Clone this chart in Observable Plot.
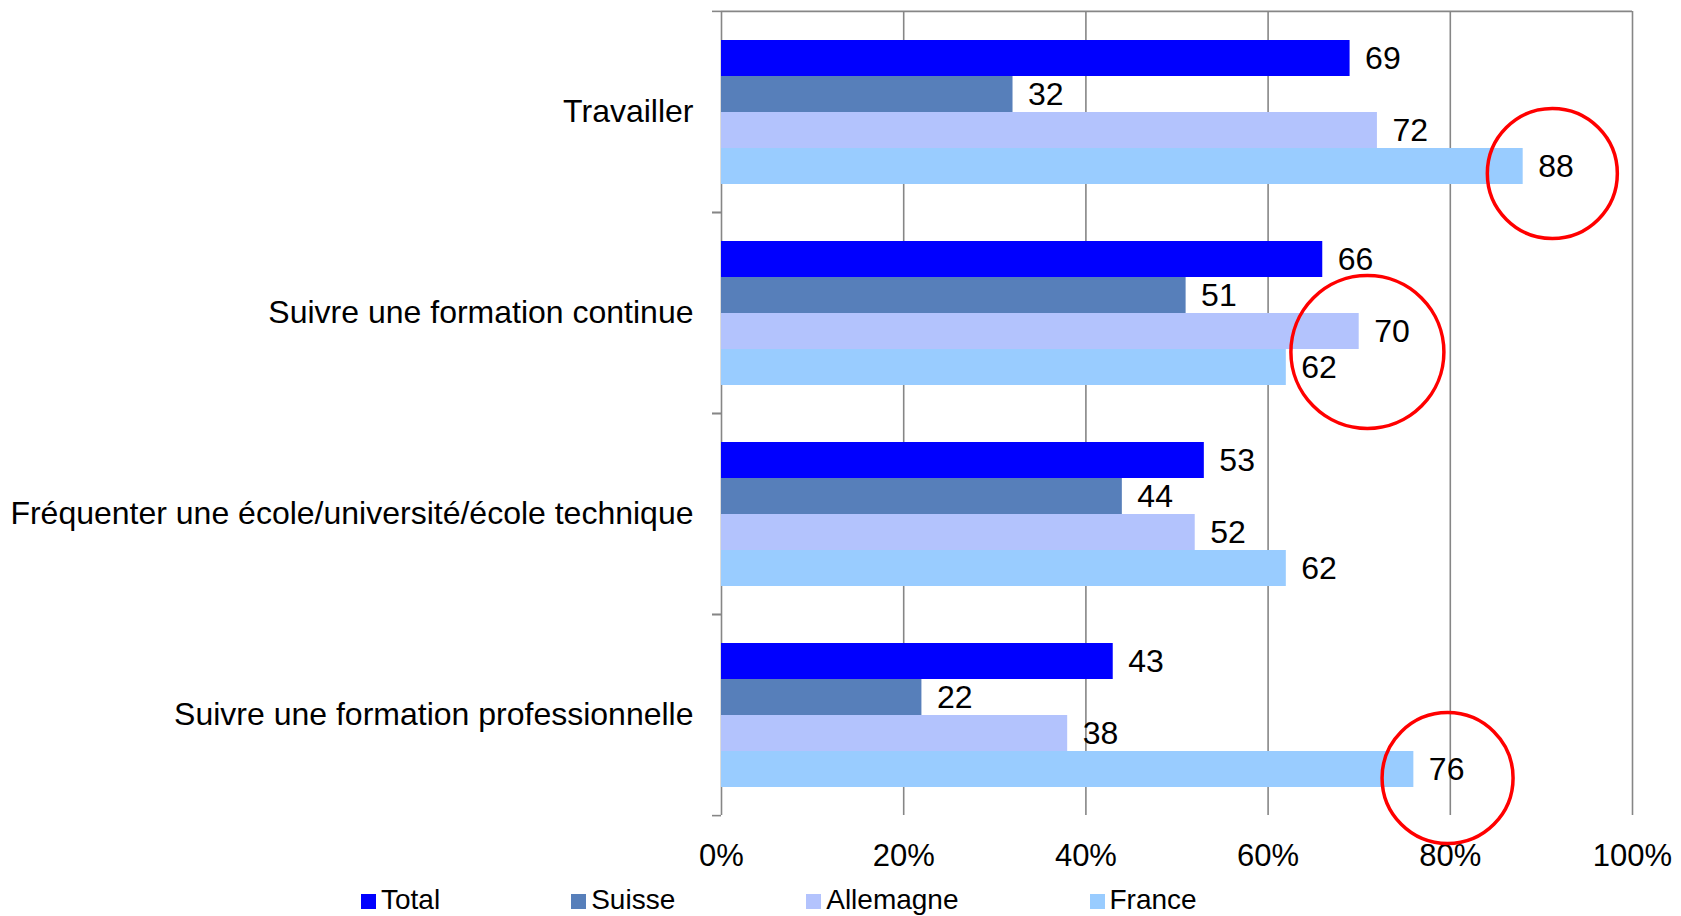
<!DOCTYPE html>
<html>
<head>
<meta charset="utf-8">
<script src="https://cdn.jsdelivr.net/npm/d3@7"></script>
<script src="https://cdn.jsdelivr.net/npm/@observablehq/plot@0.6"></script>
<style>
  html, body { margin: 0; padding: 0; background: #fff; }
  #wrap { position: relative; width: 1681px; height: 916px; font-family: "Liberation Sans", Arial, sans-serif; }
  #legend { position: absolute; left: 361px; top: 886px; display: flex; gap: 131px; font-size: 28px; line-height: 28px; color: #000; white-space: nowrap; }
  #legend .sw { display: inline-block; width: 15px; height: 15px; margin-right: 5px; vertical-align: baseline; }
</style>
</head>
<body>
<div id="wrap"><div id="chart"></div><div id="legend"></div></div>
<script>
// ---- data ----
const categories = [
  "Travailler",
  "Suivre une formation continue",
  "Fréquenter une école/université/école technique",
  "Suivre une formation professionnelle"
];
const series = ["Total", "Suisse", "Allemagne", "France"];
const totalValues = [69, 66, 53, 43];
const suisseValues = [32, 51, 44, 22];
const allemagneValues = [72, 70, 52, 38];
const franceValues = [88, 62, 62, 76];
const xTicks = [0, 20, 40, 60, 80, 100];
// highlighted (circled) annotations: category, series, centre value
const highlightCategory = ["Travailler", "Suivre une formation continue", "Suivre une formation professionnelle"];
const highlightSeries = ["France", "France", "France"];
const highlightValue = [91.2, 70.9, 79.7];

// ---- styles ----
const colors = ["#0000ff", "#577fba", "#b3c3fd", "#99ccff"];
const circleRadius = [65, 76.5, 65.5];
const circleDy = [7, -15.5, 8.5];
const gridColor = "#868686";

const valuesBySeries = [totalValues, suisseValues, allemagneValues, franceValues];
const rows = [];
categories.forEach((c, i) => series.forEach((s, j) => rows.push({category: c, series: s, value: valuesBySeries[j][i]})));
const highlights = highlightCategory.map((c, i) => ({category: c, series: highlightSeries[i], value: highlightValue[i]}));

const W = 1681, H = 880, mt = 10, mb = 65, ml = 721, mr = 49;
const facetH = (H - mt - mb) / categories.length;

const circleMarks = highlights.map((h, i) =>
  Plot.dot([h], {x: "value", y: "series", fy: "category", r: circleRadius[i], dy: circleDy[i], stroke: "#f00", strokeWidth: 3.5, fill: "none"})
);

const chart = Plot.plot({
  width: W, height: H,
  marginTop: mt, marginBottom: mb, marginLeft: ml, marginRight: mr,
  style: {fontFamily: '"Liberation Sans", Arial, sans-serif', fontSize: "32px", background: "#fff", color: "#000", overflow: "visible"},
  x: {domain: [0, 100]},
  y: {domain: series, paddingInner: 0, paddingOuter: 0.76, axis: null},
  fy: {domain: categories, padding: 0},
  color: {domain: series, range: colors},
  marks: [
    Plot.gridX({ticks: xTicks, stroke: gridColor, strokeOpacity: 1, strokeWidth: 1.6}),
    Plot.gridFy({ticks: [categories[0]], dy: -facetH / 2, stroke: gridColor, strokeOpacity: 1, strokeWidth: 1.6}),
    Plot.axisFy({anchor: "left", tickSize: 9, text: null, dy: -facetH / 2, stroke: gridColor, strokeWidth: 1.6, label: null}),
    Plot.axisFy({anchor: "left", tickSize: 9, text: null, dy: facetH / 2, stroke: gridColor, strokeWidth: 1.6, label: null}),
    Plot.axisFy({anchor: "left", tickSize: 0, tickPadding: 28, fontSize: 32, label: null}),
    Plot.axisX({ticks: xTicks, tickFormat: d => d + "%", tickSize: 0, tickPadding: 28, fontSize: 31, label: null}),
    Plot.barX(rows, {x: "value", y: "series", fy: "category", fill: "series"}),
    Plot.text(rows, {x: "value", y: "series", fy: "category", text: d => String(d.value), textAnchor: "start", dx: 15, fontSize: 32, fill: "#000"}),
    ...circleMarks
  ]
});
document.getElementById("chart").appendChild(chart);

// legend from the same series and colors
const legend = document.getElementById("legend");
series.forEach((s, i) => {
  const item = document.createElement("span");
  const sw = document.createElement("span");
  sw.className = "sw";
  sw.style.background = colors[i];
  item.appendChild(sw);
  item.appendChild(document.createTextNode(s));
  legend.appendChild(item);
});
</script>
</body>
</html>
